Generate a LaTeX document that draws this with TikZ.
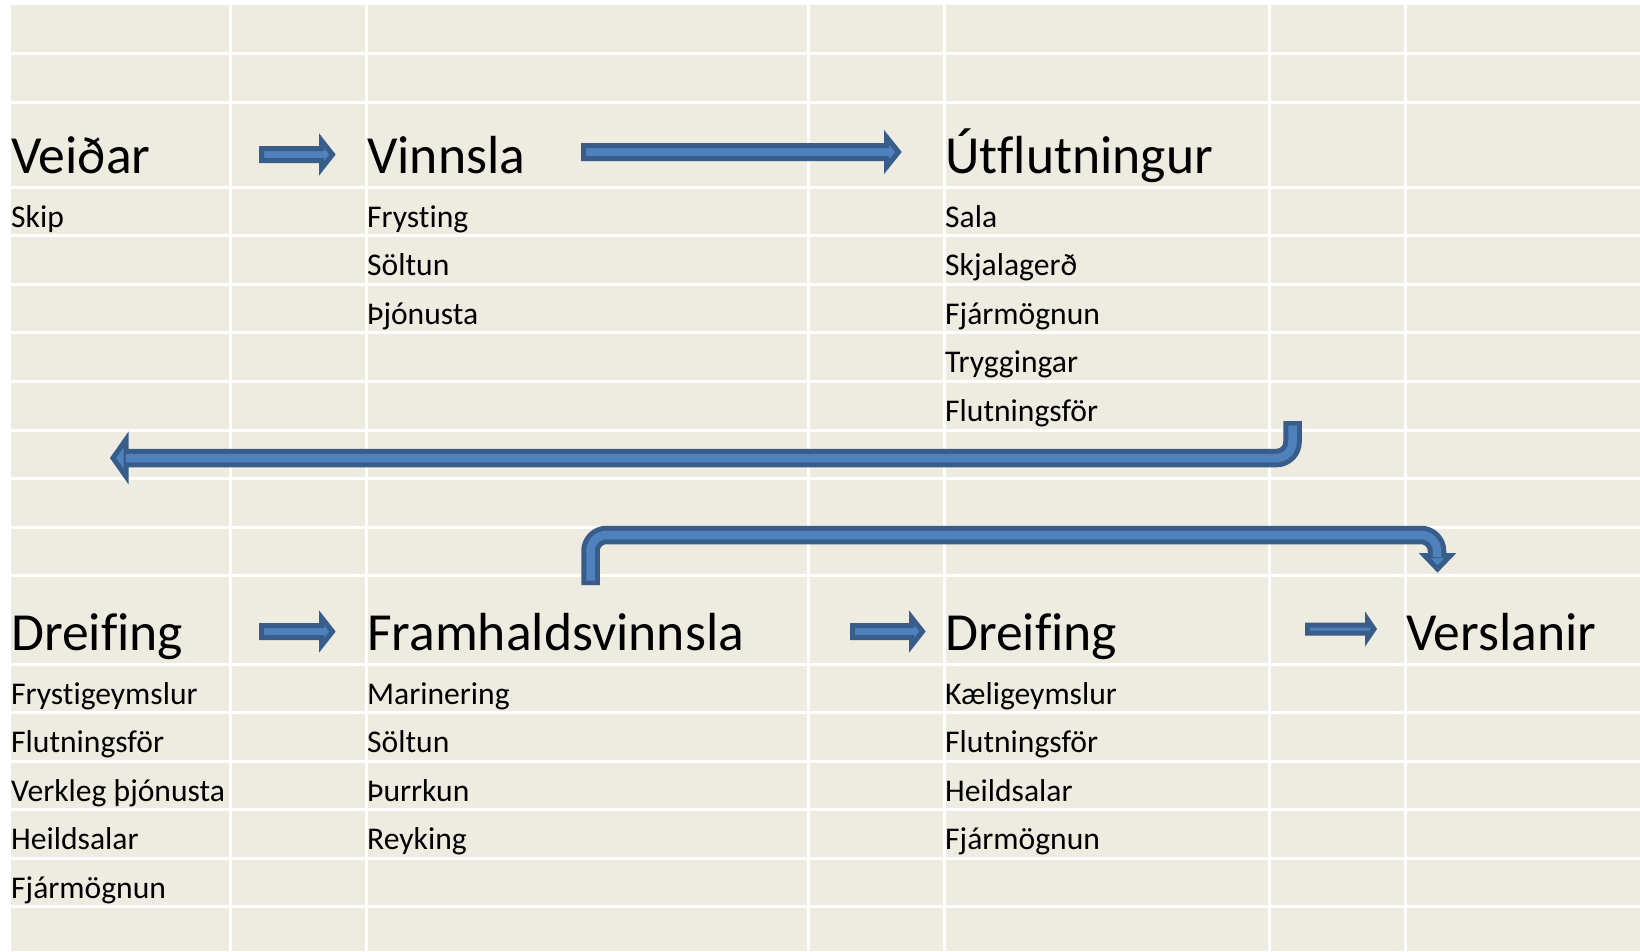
\documentclass[tikz,border=0pt]{standalone}
\usepackage{fontspec}
\setmainfont{Carlito}[Ligatures={NoCommon,NoRequired,NoContextual}]
\usetikzlibrary{calc}
\definecolor{cellbg}{HTML}{EEECE1}
\definecolor{arrfill}{HTML}{4F81BD}
\definecolor{arrline}{HTML}{385D8A}
\tikzset{
  head/.style={anchor=base west,inner sep=0pt,font=\fontsize{53.6}{60}\selectfont},
  item/.style={anchor=base west,inner sep=0pt,font=\fontsize{31.6}{36}\selectfont},
  gridline/.style={white,line width=3pt},
  blockarrow/.style={fill=arrfill,draw=arrline,line width=5pt,line join=miter},
  bandout/.style={arrline,line width=18.5pt,rounded corners=16pt},
  bandin/.style={arrfill,line width=8.5pt,rounded corners=16pt},
}
% #1 start, #2 tip, #3 shaft half, #4 head half, #5 head length
\newcommand{\blockarr}[5]{%
  \filldraw[blockarrow] let \p1=(#1), \p2=(#2) in
    (\x1,\y1+#3) -- (\x2-#5,\y1+#3) -- (\x2-#5,\y1+#4) -- (\x2,\y1)
    -- (\x2-#5,\y1-#4) -- (\x2-#5,\y1-#3) -- (\x1,\y1-#3) -- cycle;}
\begin{document}
\begin{tikzpicture}[x=1pt,y=-1pt]
\useasboundingbox (0,0) rectangle (1640,951);
\fill[white] (0,0) rectangle (1640,951);
\fill[cellbg] (11,5) rectangle (1640,951);
% grid
\foreach \gx in {230,366,808,944,1269,1405}
  \draw[gridline] (\gx,5) -- (\gx,951);
\foreach \gy in {53.5,102,187,235.6,284.2,332.8,381.4,430,478.6,527.2,575.8,664,712.5,761,809.5,858,906.5}
  \draw[gridline] (11,\gy) -- (1640,\gy);

% top section texts
\node[head] (veidar) at (11,173) {Veiðar};
\node[item] (skip) at (11,227) {Skip};
\node[head] (vinnsla) at (367,173) {Vinnsla};
\node[item] (v1) at (367,227) {Frysting};
\node[item] (v2) at (367,275.6) {Söltun};
\node[item] (v3) at (367,324.2) {Þjónusta};
\node[head] (utfl) at (945,173) {Útflutningur};
\node[item] (u1) at (945,227) {Sala};
\node[item] (u2) at (945,275.6) {Skjalagerð};
\node[item] (u3) at (945,324.2) {Fjármögnun};
\node[item] (u4) at (945,372.8) {Tryggingar};
\node[item] (u5) at (945,421.4) {Flutningsför};

% bottom section texts
\node[head] (dreif1) at (11,650) {Dreifing};
\node[item] (d1) at (11,704) {Frystigeymslur};
\node[item] (d2) at (11,752.5) {Flutningsför};
\node[item] (d3) at (11,801) {Verkleg þjónusta};
\node[item] (d4) at (11,849.5) {Heildsalar};
\node[item] (d5) at (11,898) {Fjármögnun};
\node[head] (framh) at (367,650) {Framhaldsvinnsla};
\node[item] (f1) at (367,704) {Marinering};
\node[item] (f2) at (367,752.5) {Söltun};
\node[item] (f3) at (367,801) {Þurrkun};
\node[item] (f4) at (367,849.5) {Reyking};
\node[head] (dreif2) at (945,650) {Dreifing};
\node[item] (e1) at (945,704) {Kæligeymslur};
\node[item] (e2) at (945,752.5) {Flutningsför};
\node[item] (e3) at (945,801) {Heildsalar};
\node[item] (e4) at (945,849.5) {Fjármögnun};
\node[head] (versl) at (1406,650) {Verslanir};

% small block arrows
\coordinate (a1s) at (261.5,154.5); \coordinate (a1e) at (332.5,154.5);
\coordinate (a2s) at (583.5,152);   \coordinate (a2e) at (898.5,152);
\coordinate (a3s) at (261.5,631.5); \coordinate (a3e) at (332.5,631.5);
\coordinate (a4s) at (852.5,631.5); \coordinate (a4e) at (922.5,631.5);
\coordinate (a5s) at (1307.5,629);  \coordinate (a5e) at (1374,629);
\blockarr{a1s}{a1e}{6pt}{14pt}{11pt}
\blockarr{a2s}{a2e}{6.5pt}{15pt}{12pt}
\blockarr{a3s}{a3e}{6pt}{14pt}{11pt}
\blockarr{a4s}{a4e}{6pt}{14pt}{11pt}
\blockarr{a5s}{a5e}{4pt}{9.5pt}{6.5pt}

% bent arrow A (right, down-left)
\coordinate (bAs) at (1292.5,421);
\coordinate (bAc) at (1292.5,458);
\coordinate (bAe) at (127,458);
\draw[bandout] (bAs) -- (bAc) -- (bAe);
\filldraw[blockarrow] (126,439.5) -- (113,458) -- (126,476.5) -- cycle;
\draw[bandin] ($(bAs)+(0,4.5)$) -- (bAc) -- ($(bAe)+(-1,0)$);

% bent arrow B
\coordinate (bBs) at (590.5,585);
\coordinate (bBc1) at (590.5,535);
\coordinate (bBc2) at (1437,535);
\coordinate (bBe) at (1437,556);
\draw[bandout] (bBs) -- (bBc1) -- (bBc2) -- (bBe);
\filldraw[blockarrow] (1424.5,555.5) -- (1450.5,555.5) -- (1437.5,569) -- cycle;
\draw[bandin] ($(bBs)+(0,-4.5)$) -- (bBc1) -- (bBc2) -- ($(bBe)+(0,1)$);
\end{tikzpicture}
\end{document}
